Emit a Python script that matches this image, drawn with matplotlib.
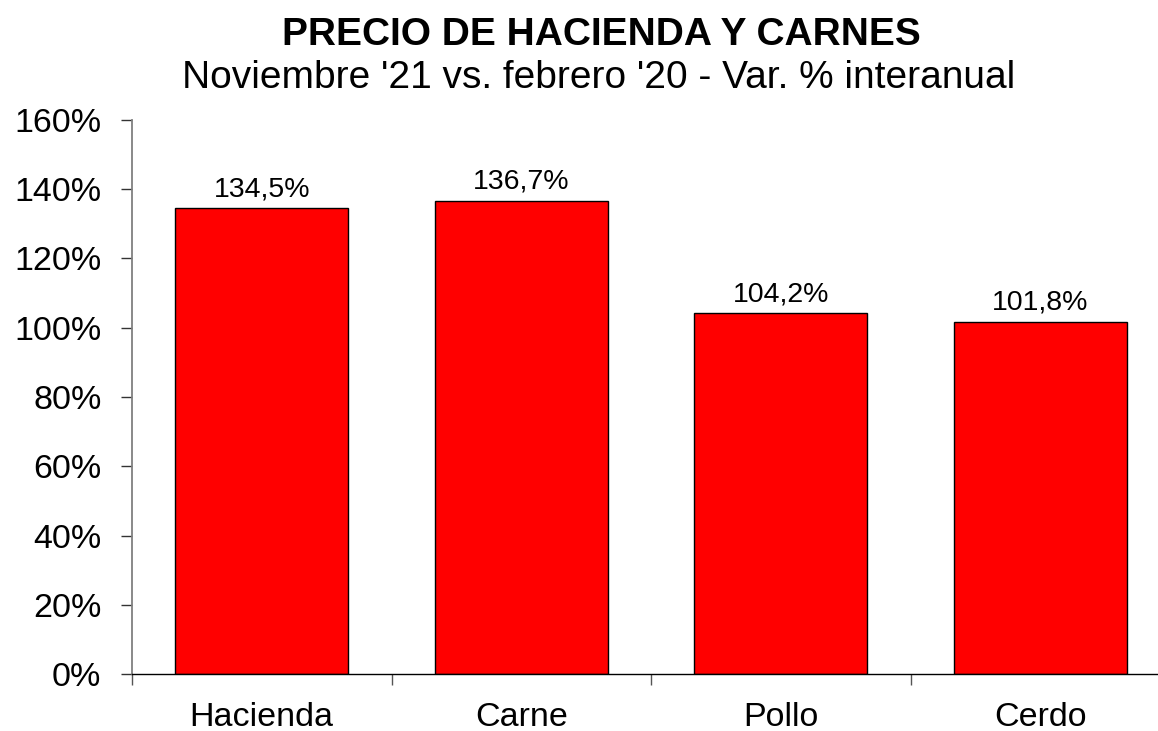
import matplotlib
matplotlib.use("Agg")
import matplotlib.pyplot as plt
from matplotlib.ticker import FixedLocator, FuncFormatter

plt.rcParams['font.family'] = ['Liberation Sans', 'DejaVu Sans']

categories = ["Hacienda", "Carne", "Pollo", "Cerdo"]
values = [134.5, 136.7, 104.2, 101.8]
labels = ["134,5%", "136,7%", "104,2%", "101,8%"]
yticks = [0, 20, 40, 60, 80, 100, 120, 140, 160]

fig = plt.figure(figsize=(11.58, 7.31), dpi=100)
ax = fig.add_axes([132 / 1158, 57 / 731, 1038 / 1158, 554 / 731])

x = list(range(len(categories)))
ax.bar(x, values, width=0.667, color="#ff0000", edgecolor="black", linewidth=1.0, zorder=2)

for xi, v, t in zip(x, values, labels):
    ax.annotate(t, (xi, v), xytext=(0, 8.5), textcoords="offset points",
                ha="center", va="baseline", fontsize=20.5)

ax.set_xlim(-0.5, len(categories) - 0.5)
ax.set_ylim(0, 160)
ax.set_yticks(yticks)
ax.yaxis.set_major_formatter(FuncFormatter(lambda v, p: f"{v:.0f}%"))

ax.set_xticks(x)
ax.set_xticklabels(categories)
ax.xaxis.set_minor_locator(FixedLocator([i + 0.5 for i in range(len(categories) - 1)] + [-0.5]))

ax.tick_params(axis="x", which="major", length=0, pad=20, labelsize=24.5)
ax.tick_params(axis="x", which="minor", length=8, width=1, color="#555555", direction="out")
ax.tick_params(axis="y", which="major", length=8, width=1, color="#333333", direction="out",
               pad=14, labelsize=24.5)

for s in ["top", "right"]:
    ax.spines[s].set_visible(False)
ax.spines["left"].set_color("#808080")
ax.spines["left"].set_linewidth(1.3)
ax.spines["bottom"].set_color("black")
ax.spines["bottom"].set_linewidth(1.0)

fig.text(601 / 1158, 1 - 45 / 731, "PRECIO DE HACIENDA Y CARNES", ha="center", va="baseline",
         fontsize=28, fontweight="bold")
fig.text(599 / 1158, 1 - 88 / 731, "Noviembre '21 vs. febrero '20 - Var. % interanual",
         ha="center", va="baseline", fontsize=28)

fig.savefig("out.png", dpi=100)
